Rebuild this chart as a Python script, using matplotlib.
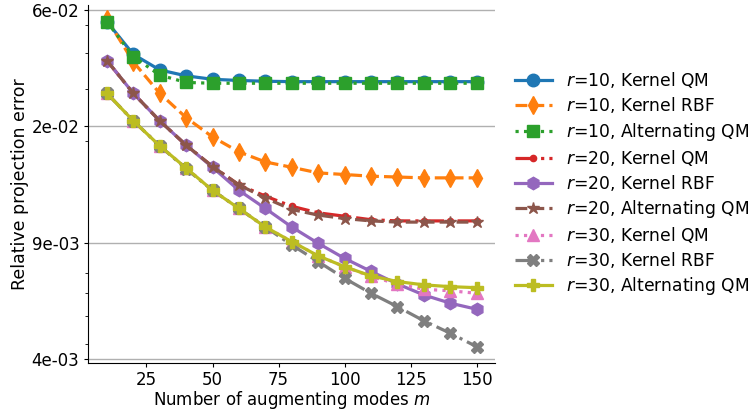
import numpy as np
import matplotlib
matplotlib.use("Agg")
import matplotlib.pyplot as plt
from matplotlib.ticker import FixedLocator, FixedFormatter

modes = [10, 20, 30, 40, 50, 60, 70, 80, 90, 100, 110, 120, 130, 140, 150]

r10_kernel_qm = [0.0513, 0.0396, 0.0350, 0.0334, 0.0325, 0.0322, 0.0320, 0.0319, 0.0319,
                 0.0319, 0.0319, 0.0319, 0.0319, 0.0319, 0.0319]
r10_kernel_rbf = [0.0524, 0.0373, 0.0291, 0.0240, 0.0206, 0.0183, 0.0169, 0.0162, 0.0155,
                  0.0153, 0.0151, 0.0150, 0.0149, 0.0149, 0.0149]
r10_alt_qm = [0.0513, 0.0389, 0.0336, 0.0317, 0.0315, 0.0315, 0.0315, 0.0315, 0.0315,
              0.0315, 0.0315, 0.0315, 0.0315, 0.0315, 0.0315]
r20_kernel_qm = [0.0377, 0.0291, 0.0234, 0.0193, 0.0163, 0.0141, 0.0129, 0.0119, 0.0113,
                 0.0110, 0.0107, 0.0106, 0.0106, 0.0106, 0.0106]
r20_kernel_rbf = [0.0377, 0.0291, 0.0234, 0.0193, 0.0162, 0.0135, 0.0117, 0.0101, 0.00888,
                  0.00788, 0.00711, 0.00644, 0.00590, 0.00553, 0.00527]
r20_alt_qm = [0.0377, 0.0291, 0.0234, 0.0193, 0.0163, 0.0141, 0.0127, 0.0116, 0.0111,
              0.0108, 0.0106, 0.0105, 0.0105, 0.0105, 0.0105]
r30_kernel_qm = [0.0291, 0.0234, 0.0192, 0.0161, 0.0135, 0.0117, 0.0101, 0.00900, 0.00804,
                 0.00738, 0.00683, 0.00644, 0.00617, 0.00610, 0.00598]
r30_kernel_rbf = [0.0291, 0.0234, 0.0192, 0.0160, 0.0135, 0.0117, 0.0101, 0.00876, 0.00768,
                  0.00673, 0.00598, 0.00538, 0.00481, 0.00436, 0.00392]
r30_alt_qm = [0.0291, 0.0234, 0.0192, 0.0161, 0.0135, 0.0117, 0.0101, 0.00900, 0.00804,
              0.00738, 0.00686, 0.00656, 0.00639, 0.00630, 0.00625]

labels = ["$r$=10, Kernel QM", "$r$=10, Kernel RBF", "$r$=10, Alternating QM",
          "$r$=20, Kernel QM", "$r$=20, Kernel RBF", "$r$=20, Alternating QM",
          "$r$=30, Kernel QM", "$r$=30, Kernel RBF", "$r$=30, Alternating QM"]
ytick_labels = ["4e-03", "9e-03", "2e-02", "6e-02"]

series = [r10_kernel_qm, r10_kernel_rbf, r10_alt_qm,
          r20_kernel_qm, r20_kernel_rbf, r20_alt_qm,
          r30_kernel_qm, r30_kernel_rbf, r30_alt_qm]
styles = [("C0", "-", "o"), ("C1", "--", "d"), ("C2", ":", "s"),
          ("C3", "-.", "."), ("C4", "-", "h"), ("C5", "--", "*"),
          ("C6", ":", "^"), ("C7", "-.", "X"), ("C8", "-", "P")]

plt.rcParams["font.family"] = ["DejaVu Sans"]
plt.rcParams["font.size"] = 12

fig = plt.figure(figsize=(7.49, 4.11), dpi=100)
ax = fig.add_axes([0.118, 0.1175, 0.661 - 0.118, 0.988 - 0.1175])

for vals, lab, (c, ls, mk) in zip(series, labels, styles):
    ax.plot(modes, vals, color=c, linestyle=ls, marker=mk, label=lab,
            linewidth=2.3, markersize=9)

ax.set_yscale("log")
ax.set_xlim(3, 157)
ax.set_ylim(0.003452, 0.05853)
ax.yaxis.set_major_locator(FixedLocator(np.geomspace(0.003546, 0.05626, 4)))
ax.yaxis.set_major_formatter(FixedFormatter(ytick_labels))
ax.yaxis.set_minor_locator(FixedLocator([0.004, 0.005, 0.006, 0.007, 0.02, 0.03, 0.04, 0.05]))
ax.yaxis.set_minor_formatter(FixedFormatter([""] * 8))
ax.set_xticks([25, 50, 75, 100, 125, 150])
ax.tick_params(axis="both", which="major", length=3.0)
ax.tick_params(axis="x", which="major", pad=3)
ax.tick_params(axis="y", which="minor", length=2.0)
ax.grid(True, axis="y", which="major", color="#b0b0b0", linewidth=1.0)
ax.set_axisbelow(True)
for s in ("top", "right"):
    ax.spines[s].set_visible(False)

ax.set_xlabel("Number of augmenting modes $m$", labelpad=0)
ax.set_ylabel("Relative projection error", fontsize=12.5, labelpad=2)

ax.legend(loc="center left", bbox_to_anchor=(1.01, 0.5), frameon=False,
          handlelength=2.2, labelspacing=0.3, fontsize=12.3)

fig.savefig("out.png", dpi=100)
